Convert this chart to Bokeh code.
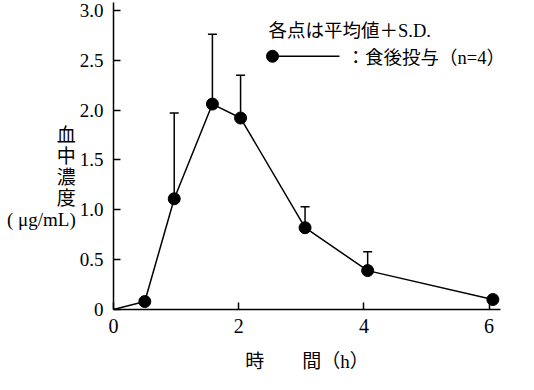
from bokeh.plotting import figure
from bokeh.models import Range1d, FixedTicker, Whisker, TeeHead, Label, ColumnDataSource
from bokeh.embed import file_html
from bokeh.resources import INLINE

# ---- data ----
times = [0, 0.5, 0.97, 1.58, 2.03, 3.06, 4.06, 6.06]
means = [0, 0.08, 1.11, 2.06, 1.92, 0.82, 0.39, 0.10]
sds = [0, 0, 0.86, 0.70, 0.43, 0.21, 0.19, 0]

x_ticks = [0, 2, 4, 6]
x_tick_labels = ["0", "2", "4", "6"]
y_ticks = [0, 0.5, 1.0, 1.5, 2.0, 2.5, 3.0]
y_tick_labels = ["0", "0.5", "1.0", "1.5", "2.0", "2.5", "3.0"]

legend_title = "各点は平均値＋S.D."
legend_label = "：食後投与（n=4）"
y_title_lines = ["", "", "血", "中", "濃", "度", "( μg/mL)"]
x_title = "時　　間（h）"

# ---- layout ----
W, H = 518, 374
FL, FW = 113, 387          # frame left, width (px)
FT, FH = 2, 314            # frame top, height (px)
FB = FT + FH
X_END = FW / 62.6
Y_END = 3.0 * FH / (FB - 10)

SERIF = "Liberation Serif"
MIXED = "Liberation Serif, Noto Sans CJK JP"


def dx(px):
    return X_END * (px - FL) / FW


def dy(py):
    return Y_END * (FB - py) / FH


def label(px, py, text, font, size="19px", align="left"):
    return Label(x=px, y=py, x_units="canvas", y_units="canvas", text=text,
                 text_font=font, text_font_size=size, text_baseline="middle",
                 text_align=align, text_color="black")


p = figure(width=W, height=H, output_backend="svg", toolbar_location=None,
           x_range=Range1d(0, X_END), y_range=Range1d(0, Y_END),
           min_border_left=FL, min_border_right=W - FL - FW,
           min_border_top=FT, min_border_bottom=H - FB)
p.outline_line_color = None
p.xgrid.visible = False
p.ygrid.visible = False
p.background_fill_color = "white"
p.border_fill_color = "white"

for ax, ticks, labels, fs, so in ((p.xaxis[0], x_ticks, x_tick_labels, "20px", 9),
                                  (p.yaxis[0], y_ticks, y_tick_labels, "19px", 10)):
    ax.ticker = FixedTicker(ticks=ticks)
    ax.major_label_overrides = {t: l for t, l in zip(ticks, labels)}
    ax.major_tick_in = 7
    ax.major_tick_out = 0
    ax.minor_tick_in = 0
    ax.minor_tick_out = 0
    ax.axis_line_width = 1.5
    ax.axis_line_color = "black"
    ax.major_tick_line_width = 1.5
    ax.major_tick_line_color = "black"
    ax.major_label_text_font = SERIF
    ax.major_label_text_font_size = fs
    ax.major_label_text_color = "black"
    ax.major_label_standoff = so
    ax.axis_label_text_font = MIXED
    ax.axis_label_text_font_size = "19px"
    ax.axis_label_text_font_style = "normal"
    ax.axis_label_text_color = "black"

p.xaxis.axis_label = x_title
p.xaxis.axis_label_standoff = 15
p.yaxis.axis_label = "\n".join(y_title_lines)
p.yaxis.axis_label_orientation = "horizontal"
p.yaxis.axis_label_text_line_height = 1.0
p.yaxis.axis_label_standoff = 1

# error bars (upper only)
err_t = [t for t, s in zip(times, sds) if s > 0]
err_m = [m for m, s in zip(means, sds) if s > 0]
err_u = [m + s for m, s in zip(means, sds) if s > 0]
src = ColumnDataSource(data=dict(t=err_t, m=err_m, u=err_u))
p.add_layout(Whisker(base="t", lower="m", upper="u", source=src, dimension="height",
                     line_width=1.5, line_color="black",
                     upper_head=TeeHead(size=9, line_width=1.5, line_color="black"),
                     lower_head=None))

p.line(times, means, line_width=1.5, line_color="black")
p.scatter(times[1:], means[1:], size=12, color="black")

# legend (kept inside the frame)
LX = 268
LY1, LY2 = 30, 57
p.line([dx(LX + 4), dx(LX + 71)], [dy(LY2), dy(LY2)], line_width=1.5, line_color="black")
p.scatter([dx(LX + 4)], [dy(LY2)], size=12, color="black")
p.add_layout(label(LX, LY1, legend_title, MIXED, "18.5px"))
p.add_layout(label(LX + 78, LY2, legend_label, MIXED, "18.5px"))

open("out.html", "w").write(file_html(p, INLINE))
